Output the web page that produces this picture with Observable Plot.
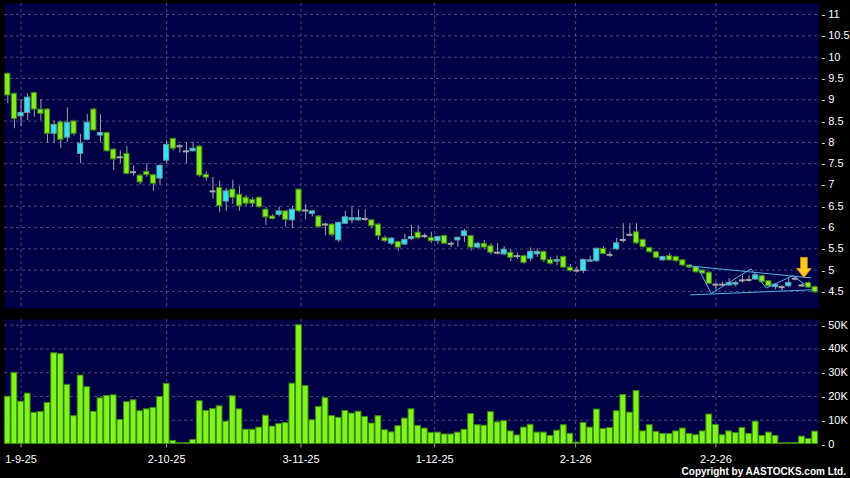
<!DOCTYPE html>
<html><head><meta charset="utf-8">
<script src="https://cdn.jsdelivr.net/npm/d3@7"></script>
<script src="https://cdn.jsdelivr.net/npm/@observablehq/plot@0.6"></script>
<style>
html,body{margin:0;padding:0;background:#000;}
#chart{position:relative;width:850px;height:478px;background:#000;overflow:hidden;font-family:"Liberation Sans",Arial,sans-serif;}
#price,#vol{position:absolute;left:0;}
#price{top:0;}
#vol{top:312px;}
#copy{position:absolute;right:4px;top:466px;line-height:11px;color:#fff;font-weight:bold;font-size:10px;letter-spacing:0px;white-space:nowrap;}
</style></head><body>
<div id="chart"><div id="price"></div><div id="vol"></div><div id="copy">Copyright by AASTOCKS.com Ltd.</div></div>
<script>
// ---- data (one entry per trading day) ----
const opens = [9.61,9.14,8.61,8.69,9.16,8.77,8.77,8.20,8.47,8.11,
 8.49,7.73,8.06,8.77,8.16,8.22,7.83,7.65,7.73,7.30,
 7.22,7.31,7.23,7.15,7.57,8.08,7.91,7.79,7.79,7.90,
 7.24,6.85,6.93,6.61,6.89,6.77,6.70,6.65,6.70,6.42,
 6.26,6.30,6.38,6.17,6.89,6.40,6.32,6.26,6.07,6.07,
 5.70,6.09,6.17,6.17,6.20,6.17,6.07,5.75,5.62,5.66,
 5.60,5.73,5.88,5.80,5.76,5.68,5.80,5.62,5.70,5.80,
 5.80,5.53,5.62,5.56,5.41,5.37,5.41,5.33,5.33,5.27,
 5.37,5.43,5.24,5.20,5.31,5.06,4.99,4.98,5.20,5.21,
 5.50,5.36,5.49,5.71,5.83,5.89,5.71,5.52,5.42,5.23,
 5.33,5.31,5.23,5.11,5.07,4.99,4.94,4.66,4.66,4.64,
 4.66,4.76,4.77,4.78,4.86,4.74,4.60,4.60,4.62,4.80,
 4.64,4.70,4.60];
const highs = [9.63,9.16,9.00,9.14,9.18,9.00,8.79,8.50,8.50,8.81,
 8.52,8.19,8.65,8.80,8.65,8.24,7.85,7.80,7.90,7.45,
 7.24,7.50,7.25,7.47,8.04,8.10,7.95,7.99,8.00,7.92,
 7.31,7.18,7.09,6.92,7.11,6.96,6.75,6.70,6.72,6.48,
 6.30,6.48,6.40,6.50,6.90,6.54,6.40,6.28,6.10,6.09,
 6.13,6.38,6.50,6.42,6.42,6.19,6.09,5.80,5.76,5.68,
 5.84,6.05,6.05,5.86,5.89,5.78,5.82,5.66,5.78,5.96,
 5.82,5.65,5.70,5.62,5.62,5.55,5.48,5.40,5.35,5.52,
 5.50,5.45,5.30,5.33,5.33,5.13,5.08,5.26,5.33,5.52,
 5.55,5.43,5.75,6.09,6.09,6.09,5.73,5.54,5.44,5.33,
 5.38,5.33,5.25,5.13,5.09,5.01,4.96,4.70,4.72,4.80,
 4.74,4.87,4.87,4.90,4.88,4.76,4.68,4.64,4.80,4.85,
 4.68,4.72,4.62];
const lows = [8.91,8.32,8.37,8.51,8.59,8.51,7.98,7.97,7.85,8.00,
 8.15,7.50,8.04,8.26,8.00,7.77,7.34,7.50,7.24,7.21,
 7.00,7.18,6.85,6.99,7.50,7.80,7.75,7.50,7.78,7.18,
 7.09,6.66,6.36,6.38,6.54,6.38,6.50,6.48,6.45,6.05,
 6.18,6.25,6.01,5.97,6.35,6.18,6.25,5.99,5.81,5.78,
 5.65,6.07,6.09,6.15,6.15,5.97,5.70,5.65,5.58,5.44,
 5.58,5.69,5.72,5.74,5.63,5.60,5.60,5.53,5.54,5.65,
 5.45,5.50,5.48,5.36,5.36,5.34,5.20,5.25,5.14,5.20,
 5.30,5.18,5.12,5.10,5.04,4.95,4.93,4.92,5.18,5.19,
 5.36,5.30,5.46,5.64,5.78,5.60,5.52,5.40,5.27,5.21,
 5.21,5.19,5.09,5.04,4.93,4.90,4.66,4.52,4.60,4.62,
 4.60,4.70,4.72,4.76,4.70,4.60,4.54,4.50,4.60,4.75,
 4.60,4.57,4.46];
const closes = [9.10,8.55,8.69,9.05,8.77,8.67,8.20,8.41,8.06,8.46,
 8.20,7.97,8.46,8.28,8.22,7.79,7.60,7.65,7.26,7.30,
 7.06,7.23,7.03,7.45,7.94,7.85,7.91,7.79,7.85,7.22,
 7.17,6.85,6.50,6.85,6.70,6.50,6.56,6.56,6.48,6.24,
 6.20,6.38,6.18,6.42,6.38,6.40,6.38,6.01,6.07,5.83,
 6.11,6.24,6.22,6.22,6.20,6.03,5.80,5.68,5.74,5.53,
 5.71,5.78,5.75,5.80,5.68,5.78,5.62,5.62,5.76,5.91,
 5.53,5.62,5.53,5.41,5.41,5.48,5.29,5.33,5.17,5.43,
 5.43,5.23,5.15,5.24,5.06,4.98,4.99,5.24,5.23,5.50,
 5.38,5.36,5.63,5.71,5.83,5.63,5.54,5.42,5.29,5.31,
 5.23,5.21,5.11,5.06,4.95,4.92,4.68,4.66,4.66,4.70,
 4.70,4.76,4.77,4.88,4.72,4.62,4.66,4.60,4.70,4.80,
 4.64,4.59,4.48];
const volumes = [19900,29900,17800,21200,13100,13500,17300,38200,37800,24900,
 11700,28800,23900,13500,19200,20200,20500,10100,17600,18400,
 13800,14600,15200,19800,25300,1300,400,400,1700,18000,
 13900,14700,15900,9400,20100,14600,6000,6000,6900,11900,
 7300,8400,8800,25400,50000,24400,10000,15600,19300,11800,
 11000,13900,12800,13600,11400,8600,11700,5800,4900,7500,
 10700,14600,7600,6500,4700,4800,4000,4000,4800,6000,
 12600,7900,7700,13400,9100,9600,5300,3600,6900,8100,
 4800,4800,3400,5600,7900,4300,600,8900,6900,14500,
 6300,6700,13800,20600,13200,22300,5300,7900,5100,4200,
 4200,5300,6500,4200,3700,5300,12400,8000,3700,5300,
 4600,6700,4200,9400,3400,4800,3400,300,400,400,
 3100,2100,5200];

// month tick labels and the bar index where each sits
const tickLabels = ["1-9-25","2-10-25","3-11-25","1-12-25","2-1-26","2-2-26"];
const tickIdx = [2, 24, 44.3, 64.5, 85.8, 107];
const priceTicks = [4.5,5,5.5,6,6.5,7,7.5,8,8.5,9,9.5,10,10.5,11];
const volTicks = [0,10000,20000,30000,40000,50000];

// trend-line annotation (bar index, price)
const upperLine = [{i:102.9,p:5.10},{i:121.3,p:4.82}];
const lowerLine = [{i:103.2,p:4.42},{i:121.7,p:4.54}];
const zigzag = [{i:104.3,p:5.06},{i:106.3,p:4.45},{i:112.3,p:5.03},{i:114.6,p:4.58},{i:118.6,p:4.87},{i:120.5,p:4.66}];
const arrowAt = [{i:120.3,p:4.83}];

// ---- build ----
const bars = opens.map((o,i)=>({i, open:o, high:highs[i], low:lows[i], close:closes[i], vol:volumes[i]}));
const NAVY = "#000046";
const GRID = "#8585b5";
const GREEN = "#84ec22", GREEN_S = "#3f8412";
const CYAN = "#30e4f4", CYAN_S = "#6b98a6";
const xDomain = [-0.5, bars.length - 0.5];

const arrowSymbol = {draw(ctx){
  ctx.moveTo(-3.3,-20); ctx.lineTo(3.3,-20); ctx.lineTo(3.3,-9); ctx.lineTo(7.3,-9);
  ctx.lineTo(0,0); ctx.lineTo(-7.3,-9); ctx.lineTo(-3.3,-9); ctx.closePath();
}};

const common = {
  width: 850, marginLeft: 4, marginRight: 32,
  style: {background: "transparent", color: "#fff", fontFamily: "'Liberation Sans', Arial, sans-serif", fontSize: "11px"},
  color: {type: "identity"}
};

const body = bars.filter(d => d.open !== d.close);
const doji = bars.filter(d => d.open === d.close);

const price = Plot.plot({
  ...common,
  height: 312, marginTop: 3, marginBottom: 4,
  x: {domain: xDomain, axis: null},
  y: {domain: [4.1, 11.26], axis: null},
  marks: [
    Plot.frame({fill: NAVY, stroke: null}),
    Plot.ruleY(priceTicks, {stroke: GRID, strokeDasharray: "3,3", strokeOpacity: 0.55}),
    Plot.ruleX(tickIdx, {stroke: GRID, strokeDasharray: "3,3", strokeOpacity: 0.55}),
    Plot.ruleX(bars, {x: "i", y1: "low", y2: "high", stroke: "#a2a2a2", strokeWidth: 1}),
    Plot.rect(body, {x1: d => d.i - 0.5, x2: d => d.i + 0.5, y1: "open", y2: "close",
      insetLeft: 0.7, insetRight: 0.7,
      fill: d => d.close < d.open ? GREEN : CYAN,
      stroke: d => d.close < d.open ? GREEN_S : CYAN_S, strokeWidth: 1}),
    Plot.ruleY(doji, {y: "close", x1: d => d.i - 0.45, x2: d => d.i + 0.45, stroke: "#a8a8a8", strokeWidth: 2}),
    Plot.line(upperLine, {x: "i", y: "p", stroke: "#52b2e4", strokeWidth: 1}),
    Plot.line(lowerLine, {x: "i", y: "p", stroke: "#52b2e4", strokeWidth: 1}),
    Plot.line(zigzag, {x: "i", y: "p", stroke: "#52b2e4", strokeWidth: 1}),
    Plot.dot(arrowAt, {x: "i", y: "p", symbol: arrowSymbol, r: 5, fill: "#ffca28", stroke: "#e08c00", strokeWidth: 1}),
    Plot.axisY({anchor: "right", ticks: priceTicks, tickSize: 0, tickPadding: 3, label: null,
      tickFormat: d => "- " + d, fill: "#fff", fontSize: 11})
  ]
});
document.getElementById("price").appendChild(price);

const vol = Plot.plot({
  ...common,
  height: 166, marginTop: 7, marginBottom: 34.5,
  x: {domain: xDomain, label: null},
  y: {domain: [0, 52400], axis: null, label: null},
  marks: [
    Plot.frame({fill: NAVY, stroke: null}),
    Plot.ruleY(volTicks.filter(v => v > 0), {stroke: GRID, strokeDasharray: "3,3", strokeOpacity: 0.55}),
    Plot.ruleX(tickIdx, {stroke: GRID, strokeDasharray: "3,3", strokeOpacity: 0.55}),
    Plot.rectY(bars, {x1: d => d.i - 0.5, x2: d => d.i + 0.5, y: "vol",
      insetLeft: 0.4, insetRight: 0.4, fill: "#80f41c", stroke: "#3a8a0c", strokeWidth: 1}),
    Plot.axisY({anchor: "right", ticks: volTicks, tickSize: 0, tickPadding: 3, label: null,
      tickFormat: d => "- " + (d === 0 ? "0" : (d / 1000) + "K"), fill: "#fff", fontSize: 11}),
    Plot.axisX({ticks: tickIdx, tickSize: 4, tickPadding: 7, stroke: "#9a9a9a", label: null,
      tickFormat: d => tickLabels[tickIdx.indexOf(d)], fill: "#fff", fontSize: 11})
  ]
});
document.getElementById("vol").appendChild(vol);
</script>
</body></html>
